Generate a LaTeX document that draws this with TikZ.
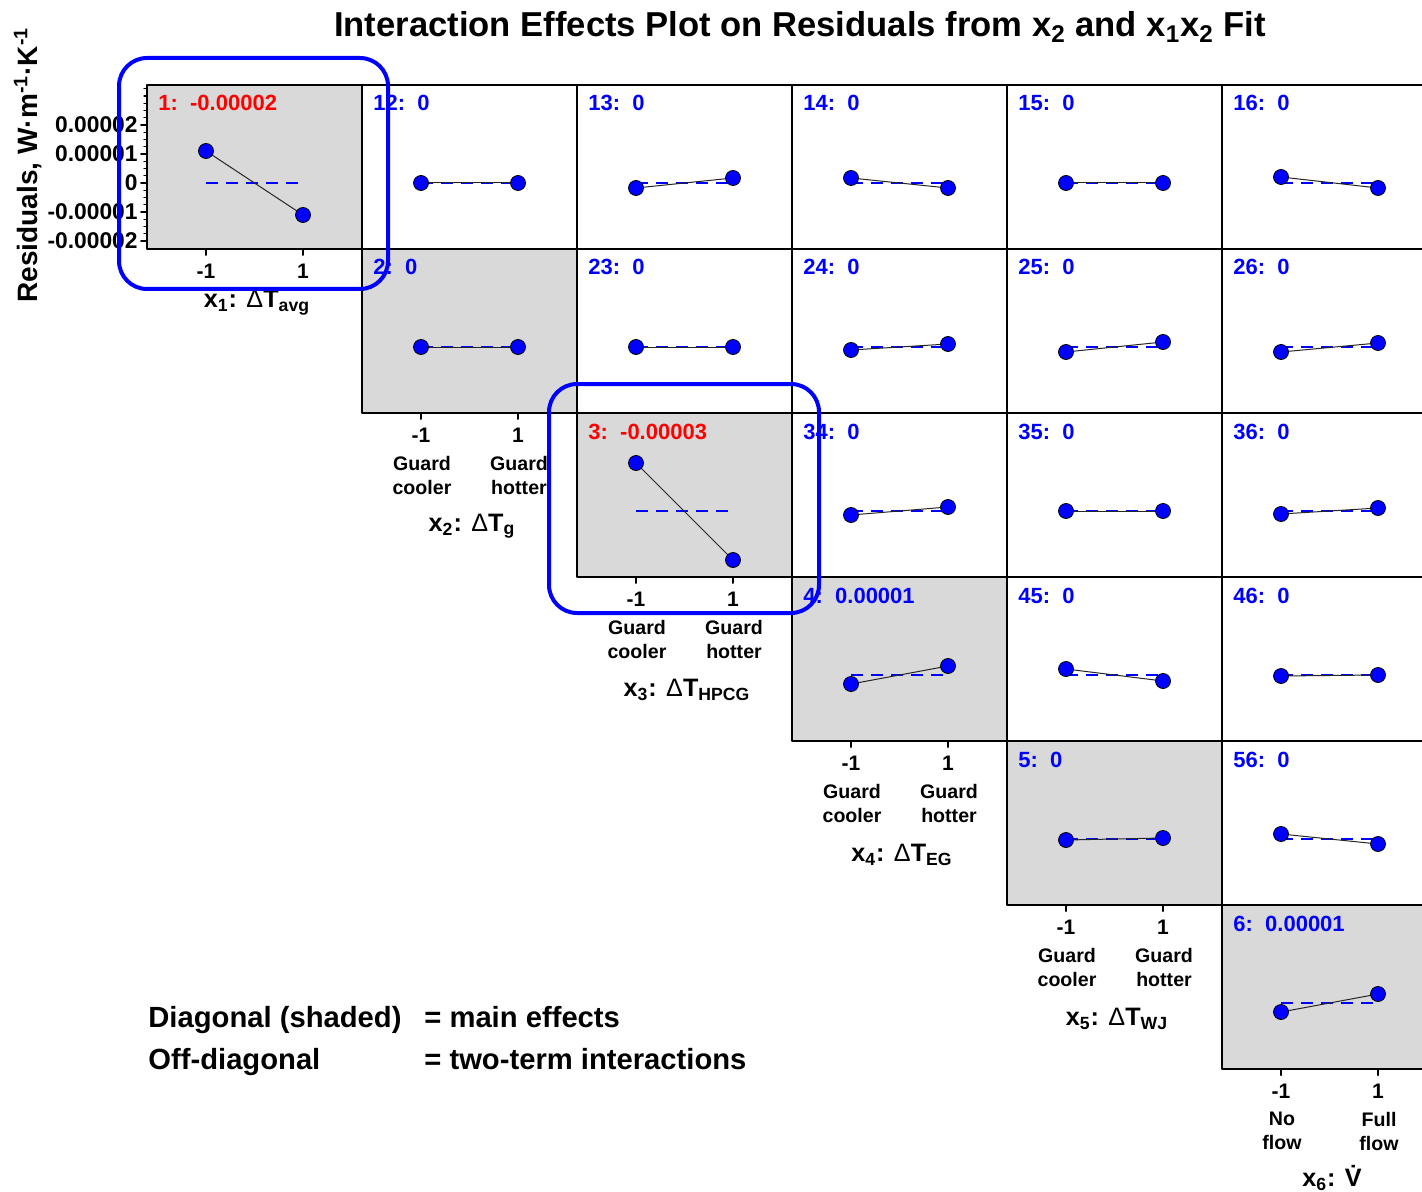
\documentclass[tikz,border=0pt]{standalone}
\usepackage{fontspec}
\setmainfont{Liberation Sans}
\definecolor{shade}{RGB}{217,217,217}
\tikzset{
  panel/.style={draw=black, line width=1pt},
  fitline/.style={blue, line width=1.1pt, line cap=butt, dash pattern=on 6pt off 4pt},
  resline/.style={black!85, line width=0.5pt},
  dot/.style={circle, draw=black, fill=blue, line width=0.4pt, inner sep=0pt, minimum size=7.5pt},
  plabel/.style={anchor=base west, inner sep=0pt, font=\fontsize{11}{13}\selectfont\bfseries},
  ticklab/.style={inner sep=0pt, font=\fontsize{10.5}{12}\selectfont\bfseries},
  ylab/.style={inner sep=0pt, anchor=east, font=\fontsize{11.4}{13}\selectfont\bfseries},
  levlab/.style={inner sep=0pt, align=center, font=\fontsize{9.8}{12}\selectfont\bfseries},
  varlab/.style={inner sep=0pt, font=\fontsize{12.6}{15}\selectfont\bfseries},
  legend/.style={anchor=base west, inner sep=0pt, font=\fontsize{14.6}{17}\selectfont\bfseries},
  hilite/.style={draw=blue, line width=2pt, rounded corners=14pt},
}
\begin{document}
\begin{tikzpicture}[x=0.5pt, y=-0.5pt, line join=round, line cap=round]
	\useasboundingbox (0,0) rectangle (1422,1192);
	\clip (0,0) rectangle (1422,1192);
	% title and y axis title
	\node[inner sep=0pt, font=\fontsize{17.3}{20}\selectfont\bfseries] (title) at (800,27)
		{Interaction Effects Plot on Residuals from x\textsubscript{2} and x\textsubscript{1}x\textsubscript{2} Fit};
	\node[inner sep=0pt, rotate=90, font=\fontsize{14}{16}\selectfont\bfseries] (ytitle) at (28,165)
		{Residuals, W·m\textsuperscript{-1}·K\textsuperscript{-1}};
	% panels: row/col/label/colour/left/right (px above zero line)
	\foreach \rr/\cc/\txt/\col/\ya/\yb in {
		1/1/{1:~~-0.00002}/red/32/-32, 1/2/{12:~~0}/blue/0/0, 1/3/{13:~~0}/blue/-5/5,
		1/4/{14:~~0}/blue/5/-5, 1/5/{15:~~0}/blue/0/0, 1/6/{16:~~0}/blue/6/-5,
		2/2/{2:~~0}/blue/0/0, 2/3/{23:~~0}/blue/0/0, 2/4/{24:~~0}/blue/-3/3,
		2/5/{25:~~0}/blue/-5/5, 2/6/{26:~~0}/blue/-5/4,
		3/3/{3:~~-0.00003}/red/48/-49, 3/4/{34:~~0}/blue/-4/4, 3/5/{35:~~0}/blue/0/0, 3/6/{36:~~0}/blue/-3/3,
		4/4/{4:~~0.00001}/blue/-9/9, 4/5/{45:~~0}/blue/6/-6, 4/6/{46:~~0}/blue/-1/0,
		5/5/{5:~~0}/blue/-1/1, 5/6/{56:~~0}/blue/5/-5,
		6/6/{6:~~0.00001}/blue/-9/9}{
		\pgfmathsetmacro\xl{147+215*(\cc-1)}
		\pgfmathsetmacro\yt{85+164*(\rr-1)}
		\pgfmathsetmacro\yA{\yt+98-\ya}
		\pgfmathsetmacro\yB{\yt+98-\yb}
		\ifnum\rr=\cc\relax \def\bg{shade}\else\def\bg{white}\fi
		\draw[panel, fill=\bg] (\xl,\yt) rectangle ++(215,164);
		\coordinate (L\rr\cc) at (\xl+59,\yA);
		\coordinate (R\rr\cc) at (\xl+156,\yB);
		\draw[fitline] (\xl+59,\yt+98) -- (\xl+156,\yt+98);
		\draw[resline] (L\rr\cc) -- (R\rr\cc);
		\node[dot] (dl\rr\cc) at (L\rr\cc) {};
		\node[dot] (dr\rr\cc) at (R\rr\cc) {};
		\node[plabel, text=\col] (lab\rr\cc) at (\xl+11,\yt+26) {\txt};
	}
	% y axis of first panel
	\foreach \n in {0,...,21}{
		\draw[line width=0.6pt] (147,241-7.25*\n) -- ++(-3,0);
	}
	\foreach \yy/\t in {125/0.00002, 154/0.00001, 183/0, 212/-0.00001, 241/-0.00002}{
		\draw[line width=1pt] (147,\yy) -- ++(-6,0);
		\node[ylab] (yl\yy) at (138,\yy) {\t};
	}
	% x axes under the diagonal
	\foreach \k/\lo/\hi/\vy/\var in {
		1/{}/{}/54/{x\textsubscript{1}: {\mdseries Δ}T\textsubscript{avg}},
		2/{Guard\\cooler}/{Guard\\hotter}/113/{x\textsubscript{2}: {\mdseries Δ}T\textsubscript{g}},
		3/{Guard\\cooler}/{Guard\\hotter}/113/{x\textsubscript{3}: {\mdseries Δ}T\textsubscript{HPCG}},
		4/{Guard\\cooler}/{Guard\\hotter}/114/{x\textsubscript{4}: {\mdseries Δ}T\textsubscript{EG}},
		5/{Guard\\cooler}/{Guard\\hotter}/114/{x\textsubscript{5}: {\mdseries Δ}T\textsubscript{WJ}},
		6/{No\\flow}/{Full\\flow}/109/{x\textsubscript{6}: \.{V}}}{
		\pgfmathsetmacro\xl{147+215*(\k-1)}
		\pgfmathsetmacro\yb{249+164*(\k-1)}
		\draw[line width=1pt] (\xl+59,\yb) -- ++(0,6);
		\draw[line width=1pt] (\xl+156,\yb) -- ++(0,6);
		\node[ticklab] (lo\k) at (\xl+59,\yb+22) {-1};
		\node[ticklab] (hi\k) at (\xl+156,\yb+22) {1};
		\node[levlab] (lol\k) at (\xl+60,\yb+62) {\lo};
		\node[levlab] (hil\k) at (\xl+157,\yb+62) {\hi};
		\node[varlab] (var\k) at (\xl+110,\yb+\vy) {\var};
	}
	% highlighted panels
	\draw[hilite] (119,58) rectangle (388,289);
	\draw[hilite] (549,384) rectangle (819,613);
	% legend
	\node[legend] (diag) at (148,1027) {Diagonal (shaded)};
	\node[legend] (diagtxt) at (424,1027) {= main effects};
	\node[legend] (off) at (148,1069) {Off-diagonal};
	\node[legend] (offtxt) at (424,1069) {= two-term interactions};
\end{tikzpicture}
\end{document}
